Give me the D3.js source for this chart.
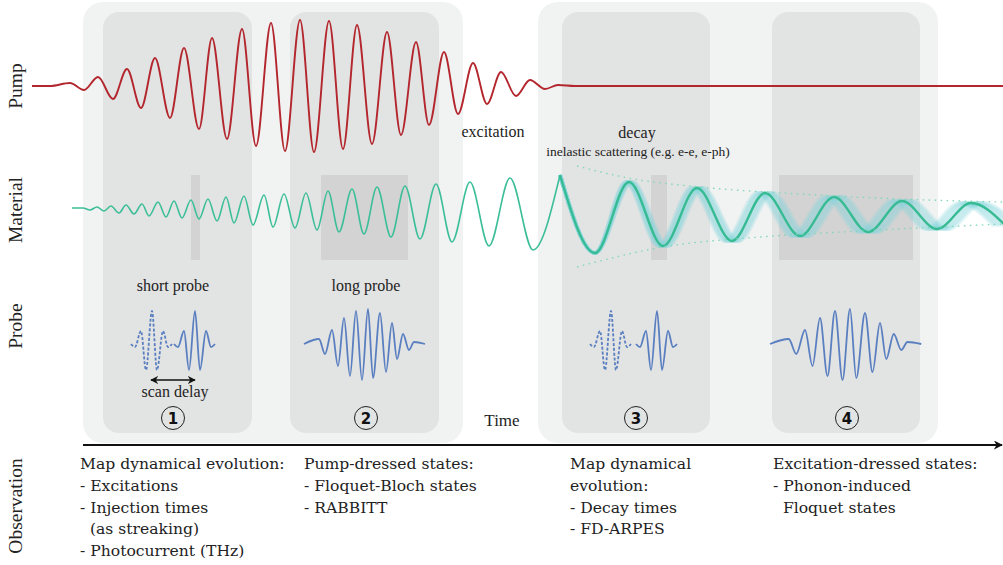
<!DOCTYPE html>
<html><head><meta charset="utf-8">
<script src="https://cdn.jsdelivr.net/npm/d3@7"></script>
<style>html,body{margin:0;padding:0;background:#fff;}svg{display:block;}
.lbl{font-family:"Liberation Serif","Times New Roman","DejaVu Serif",serif;}
.obs{font-family:"DejaVu Serif",serif;}
</style>
</head><body>
<script>
// ---------- DATA (time in arbitrary units, amplitudes in arbitrary units) ----------
const rowLabels = ["Pump", "Material", "Probe", "Observation"];

// pump field extrema: time, amplitude
const pumpT = [32,50,70,84,98,113,127,141,155,170,184,199,212,227,242,256,271,285,300,314,329,343,357,372,387,401,416,429,444,458,473,487,501,516,530,545,558,575,1003];
const pumpA = [0,0,3,-4,9,-13,17,-22,28,-32,38,-43,48,-53,57,-60,63,-65,66,-66,65,-63,61,-58,54,-49,44,-39,34,-28,23,-18,14,-10,6,-3,1,0,0];

// material response extrema: time, amplitude
const matT = [72,83,90,97,104,111,119,126,134,142,149,158,166,174,182,191,199,208,217,226,234,244,253,264,273,284,295,306,317,328,339,352,364,377,391,405,420,436,452,470,489,510,533,560,595,629,663,697,732,765,800,834,868,902,937,971,1006];
const matA = [4,4,2,5,1,6,-1,7,-2,8,-4,10,-5,11,-6,12,-7,13,-9,15,-11,16,-13,17,-15,18,-16,19,-18,21,-20,23,-22,25,-25,26,-27,28,-30,30,-34,34,-38,37,-41,30,-34,24,-29,19,-24,15,-20,11,-17,9,-14];

// decay envelopes
const envUpT = [577,628,700,800,900,1003];
const envUpA = [46,34,25,18,13,10];
const envLoT = [577,663,760,860,1003];
const envLoA = [-55,-35,-25,-19,-12];

// probe pulse shapes (relative time, amplitude)
const shortPulseT = [-21,-17,-11,-6,0,5,11,16,20];
const shortPulseA = [0,-3,13,-26,33,-26,13,-3,0];
const longPulseT = [-64,-49,-43,-36,-30,-24,-18,-12,-6,0,5,12,18,24,29,35,41,46,57];
const longPulseA = [0,5,-10,14,-22,26,-32,33,-36,35,-34,31,-28,21,-15,10,-6,2,0];

// probe instances: centre time, pulse kind, stretch, dashed?
const probeCentre = [152, 195, 368, 611, 657, 850];
const probeKind   = ["short","short","long","short","short","long"];
const probeStretch= [1, 1, 1, 1, 1, 1.25];
const probeDashed = [true, false, false, true, false, false];

const regimeNumbers = ["1","2","3","4"];
const regimeCentre = [173, 366, 636, 847];
const probeTitles = ["short probe","long probe"];

const observations = [
  ["Map dynamical evolution:", "- Excitations", "- Injection times", "  (as streaking)", "- Photocurrent (THz)"],
  ["Pump-dressed states:", "- Floquet-Bloch states", "- RABBITT"],
  ["Map dynamical", "evolution:", "- Decay times", "- FD-ARPES"],
  ["Excitation-dressed states:", "- Phonon-induced", "  Floquet states"]
];

// ---------- DRAWING ----------
const W = 1003, H = 565;
const svg = d3.select("body").append("svg").attr("width", W).attr("height", H);

const x = d3.scaleLinear().domain([0, 1003]).range([0, 1003]);
const yPump = d3.scaleLinear().domain([-70, 70]).range([156, 16]);
const yMat = d3.scaleLinear().domain([-60, 60]).range([272, 152]);
const yProbe = d3.scaleLinear().domain([-40, 40]).range([384, 304]);

const defs = svg.append("defs");
defs.append("clipPath").attr("id","clipAll").append("rect").attr("x",0).attr("y",0).attr("width",W).attr("height",H);
function arrowMarker(id, size){
  defs.append("marker").attr("id", id).attr("viewBox","0 0 10 10").attr("refX",9).attr("refY",5)
    .attr("markerWidth",size).attr("markerHeight",size).attr("orient","auto-start-reverse")
    .attr("markerUnits","userSpaceOnUse")
    .append("path").attr("d","M0,0 L10,5 L0,10 L3,5 Z").attr("fill","#111");
}
arrowMarker("arrS", 8);
arrowMarker("arrT", 9);

// background panels
const bg = svg.append("g");
const outer = [[83, 463], [538, 938]];
outer.forEach(([a,b]) => bg.append("rect").attr("x", a).attr("y", 2).attr("width", b-a).attr("height", 441).attr("rx", 20).attr("fill", "#f1f2f2"));
const inner = [[103,252],[290,439],[562,710],[772,920]];
inner.forEach(([a,b]) => bg.append("rect").attr("x", a).attr("y", 12).attr("width", b-a).attr("height", 421).attr("rx", 16).attr("fill", "#e2e3e3"));
const dark = [[191,200],[321,408],[651,667],[779,913]];
dark.forEach(([a,b]) => bg.append("rect").attr("x", a).attr("y", 175).attr("width", b-a).attr("height", 85).attr("fill", "#d3d3d3"));

const zip = (T, A) => T.map((t,i) => [t, A[i]]);

// pump
const pumpLine = d3.line().x(d => x(d[0])).y(d => yPump(d[1])).curve(d3.curveMonotoneX);
svg.append("path").attr("d", pumpLine(zip(pumpT, pumpA))).attr("fill","none")
  .attr("stroke","#b3262d").attr("stroke-width",1.9);

// material
const matPts = zip(matT, matA);
const matLine = d3.line().x(d => x(d[0])).y(d => yMat(d[1])).curve(d3.curveMonotoneX);
const gMat = svg.append("g").attr("clip-path","url(#clipAll)");

// dephasing band
const startIdx = matT.indexOf(560);
const tail = matPts.slice(startIdx);
const spread = t => t <= 595 ? 0 : 12.5 * Math.sqrt((t - 595) / 410);
const ks = d3.range(-1, 1.001, 0.125);
ks.forEach(k => {
  const line = d3.line().x(d => x(d[0] + k * spread(d[0]))).y(d => yMat(d[1])).curve(d3.curveMonotoneX);
  gMat.append("path").attr("d", line(tail)).attr("fill","none")
    .attr("stroke","#86d4dc").attr("stroke-opacity",0.15).attr("stroke-width",4);
});

gMat.append("path").attr("d", matLine(matPts.slice(0, startIdx + 1))).attr("fill","none")
  .attr("stroke","#3cbf98").attr("stroke-width",1.6);
gMat.append("path").attr("d", matLine(tail)).attr("fill","none")
  .attr("stroke","#36bb93").attr("stroke-width",2.4);

// envelopes
const envLine = d3.line().x(d => x(d[0])).y(d => yMat(d[1])).curve(d3.curveMonotoneX);
[zip(envUpT, envUpA), zip(envLoT, envLoA)].forEach(p => {
  gMat.append("path").attr("d", envLine(p)).attr("fill","none")
    .attr("stroke","#7fd6b8").attr("stroke-width",1.3).attr("stroke-dasharray","1.5 4.5");
});

// probes
probeCentre.forEach((c, i) => {
  const T = probeKind[i] === "short" ? shortPulseT : longPulseT;
  const A = probeKind[i] === "short" ? shortPulseA : longPulseA;
  const pts = T.map((t, j) => [c + t * probeStretch[i], A[j]]);
  const line = d3.line().x(d => x(d[0])).y(d => yProbe(d[1])).curve(d3.curveMonotoneX);
  const p = svg.append("path").attr("d", line(pts)).attr("fill","none")
    .attr("stroke","#5a7fc1").attr("stroke-width",1.8);
  if (probeDashed[i]) p.attr("stroke-dasharray","3 1.8");
});

// scan delay arrow
svg.append("line").attr("x1", x(151)).attr("x2", x(195)).attr("y1", 380).attr("y2", 380)
  .attr("stroke","#111").attr("stroke-width",1.3)
  .attr("marker-start","url(#arrS)").attr("marker-end","url(#arrS)");

const txt = (s, xx, yy, size, anchor="middle") => svg.append("text").text(s).attr("x", xx).attr("y", yy)
  .attr("class","lbl").attr("font-size", size).attr("fill","#222").attr("text-anchor", anchor);

txt("scan delay", 175, 397, 16);
txt(probeTitles[0], x(173), 291, 16);
txt(probeTitles[1], x(366), 291, 16);
txt("excitation", x(493), 137, 16);
txt("decay", x(637), 138, 16);
txt("inelastic scattering (e.g. e-e, e-ph)", x(638), 156, 13.5);
txt("Time", 502, 426, 17);

// circled numbers
regimeNumbers.forEach((n, i) => {
  const cx = x(regimeCentre[i]);
  svg.append("circle").attr("cx", cx).attr("cy", 418).attr("r", 11.5).attr("fill","none")
    .attr("stroke","#222").attr("stroke-width",1);
  svg.append("text").text(n).attr("x", cx).attr("y", 423.5).attr("text-anchor","middle")
    .style("font-family","'DejaVu Sans', sans-serif").attr("font-weight","bold").attr("font-size",15).attr("fill","#111");
});

// row labels (rotated)
const labelY = [86, 210, 326, 506];
rowLabels.forEach((l, i) => {
  svg.append("text").text(l).attr("transform", `translate(22,${labelY[i]}) rotate(-90)`)
    .attr("text-anchor","middle").attr("class","lbl").attr("font-size", 19.5).attr("fill","#222");
});

// time axis
svg.append("line").attr("x1", 83).attr("x2", 1002).attr("y1", 445).attr("y2", 445)
  .attr("stroke","#111").attr("stroke-width",1.8).attr("marker-end","url(#arrT)");

// observations
const obsX = [80, 304, 570, 773];
observations.forEach((lines, i) => {
  const t = svg.append("text").attr("class","obs").attr("font-size",15.6)
    .attr("fill","#222").style("white-space","pre");
  lines.forEach((s, j) => {
    t.append("tspan").attr("x", obsX[i]).attr("y", 469 + j * 21.8).text(s);
  });
});
</script>
</body></html>
